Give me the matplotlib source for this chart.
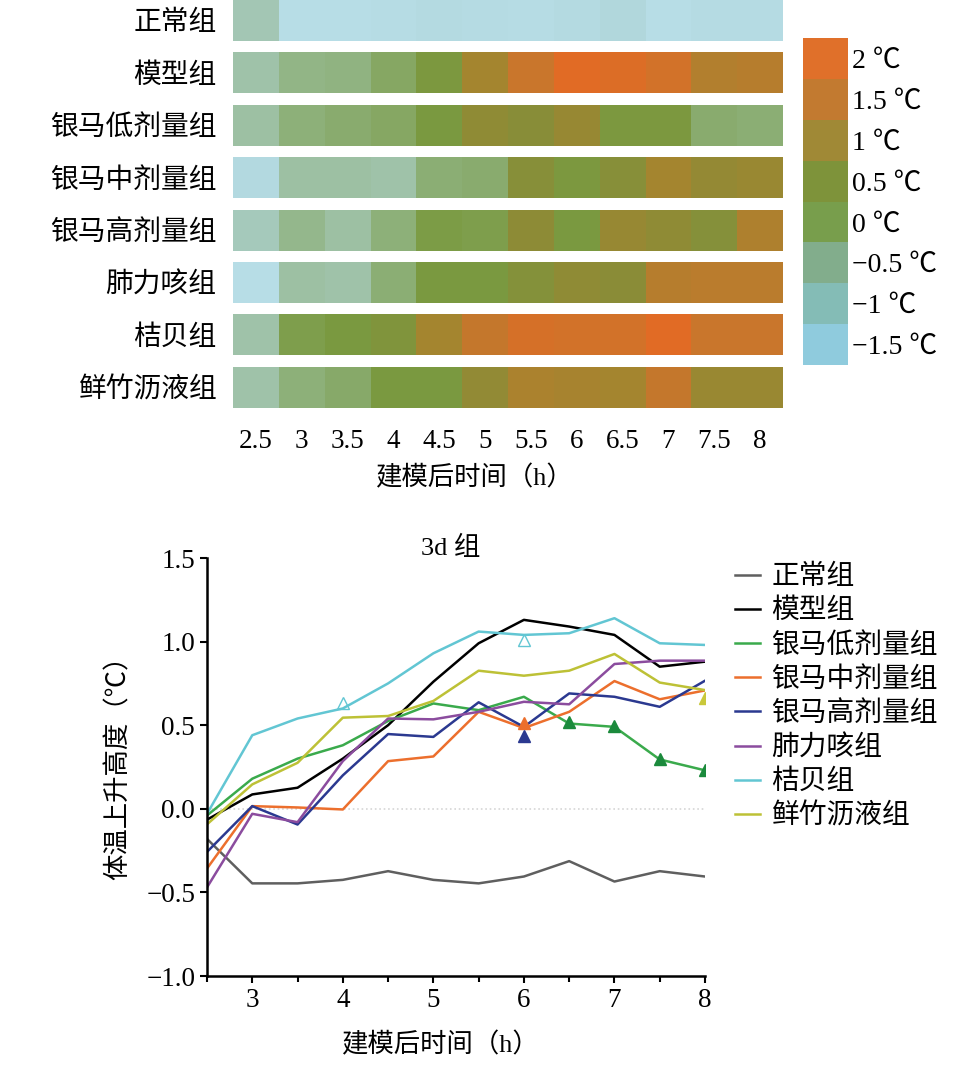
import numpy as np
import matplotlib
matplotlib.use("Agg")
import matplotlib.pyplot as plt
from matplotlib.colors import LinearSegmentedColormap, ListedColormap, BoundaryNorm, Normalize
from matplotlib.cm import ScalarMappable
from matplotlib.ticker import MultipleLocator

FONT = ["Liberation Serif", "Noto Sans CJK SC"]
plt.rcParams["font.family"] = FONT
plt.rcParams["axes.unicode_minus"] = True

# ---- data ----
groups = ["正常组", "模型组", "银马低剂量组", "银马中剂量组", "银马高剂量组",
          "肺力咳组", "桔贝组", "鲜竹沥液组"]
hours = [2.5, 3, 3.5, 4, 4.5, 5, 5.5, 6, 6.5, 7, 7.5, 8]
hour_labels = ["2.5", "3", "3.5", "4", "4.5", "5", "5.5", "6", "6.5", "7", "7.5", "8"]

# heatmap (temperature rise, ℃)
heat_normal = [-1.0, -2.0, -2.0, -1.95, -1.85, -1.9, -1.95, -1.85, -1.7, -2.0, -1.9, -1.9]
heat_model = [-0.9, -0.6, -0.55, -0.3, 0.05, 1.0, 1.5, 2.0, 1.9, 1.7, 1.2, 1.25]
heat_low = [-0.85, -0.5, -0.4, -0.3, 0.0, 0.6, 0.45, 0.75, 0.05, 0.05, -0.4, -0.45]
heat_mid = [-1.8, -0.85, -0.85, -0.9, -0.45, -0.4, 0.4, 0.05, 0.4, 1.0, 0.7, 0.8]
heat_high = [-1.1, -0.65, -0.85, -0.5, -0.05, -0.1, 0.55, 0.0, 0.75, 0.6, 0.35, 1.15]
heat_flk = [-2.0, -0.85, -0.9, -0.45, 0.0, 0.0, 0.3, 0.6, 0.5, 1.25, 1.3, 1.3]
heat_jb = [-0.9, -0.1, 0.0, 0.2, 1.0, 1.45, 1.75, 1.7, 1.7, 2.0, 1.5, 1.5]
heat_xzl = [-0.9, -0.5, -0.35, 0.0, 0.0, 0.65, 1.1, 1.05, 1.0, 1.45, 0.8, 0.8]
heat_rows = [heat_normal, heat_model, heat_low, heat_mid, heat_high, heat_flk, heat_jb, heat_xzl]

cbar_values = [-1.5, -1, -0.5, 0, 0.5, 1, 1.5, 2]
cbar_labels = ["−1.5 ℃", "−1 ℃", "−0.5 ℃", "0 ℃", "0.5 ℃", "1 ℃", "1.5 ℃", "2 ℃"]

# 3d group line chart
line_normal = [-0.18, -0.446, -0.446, -0.425, -0.373, -0.425, -0.446, -0.405, -0.313, -0.435, -0.373, -0.405]
line_model = [-0.065, 0.086, 0.126, 0.30, 0.50, 0.76, 0.99, 1.13, 1.09, 1.04, 0.85, 0.88]
line_low = [-0.04, 0.18, 0.30, 0.38, 0.525, 0.63, 0.59, 0.67, 0.51, 0.49, 0.295, 0.23]
line_mid = [-0.357, 0.016, 0.008, -0.004, 0.285, 0.313, 0.58, 0.483, 0.58, 0.764, 0.655, 0.708]
line_high = [-0.258, 0.016, -0.094, 0.20, 0.447, 0.43, 0.637, 0.49, 0.69, 0.67, 0.61, 0.766]
line_flk = [-0.47, -0.03, -0.08, 0.285, 0.54, 0.535, 0.58, 0.64, 0.625, 0.866, 0.886, 0.886]
line_jb = [-0.03, 0.44, 0.54, 0.60, 0.75, 0.93, 1.06, 1.04, 1.05, 1.14, 0.99, 0.98]
line_xzl = [-0.093, 0.146, 0.275, 0.545, 0.555, 0.645, 0.826, 0.796, 0.826, 0.926, 0.755, 0.71]
line_rows = [line_normal, line_model, line_low, line_mid, line_high, line_flk, line_jb, line_xzl]
line_colors = ["#5f5f5f", "#000000", "#3aaa4c", "#ec6f2d", "#2b3990", "#8b4c9e", "#62c6d3", "#bdc136"]

# significance triangles
sig_low_x = [6.5, 7, 7.5, 8]
sig_low_y = [0.52, 0.495, 0.30, 0.235]
sig_mid_x, sig_mid_y = [6], [0.515]
sig_high_x, sig_high_y = [6], [0.435]
sig_xzl_x, sig_xzl_y = [8], [0.66]
sig_jb_x, sig_jb_y = [4, 6], [0.635, 1.01]

# ---- figure ----
fig = plt.figure(figsize=(9.8, 10.69), dpi=100)

# heatmap
heat_cmap = LinearSegmentedColormap.from_list("heat", [
    (0.0, "#b7dde6"), (0.125, "#add3d6"), (0.25, "#a3c6b4"), (0.375, "#8db07a"),
    (0.5, "#7a9940"), (0.625, "#8a8c37"), (0.75, "#a3852f"), (0.875, "#c8762c"),
    (1.0, "#e16b25")])
heat_norm = Normalize(-2, 2)

ax_h = fig.add_axes([233 / 980, 1 - 413.5 / 1069, 550 / 980, 413.5 / 1069])
x_edges = np.arange(len(hours) + 1) - 0.5
for i, row in enumerate(heat_rows):
    ax_h.pcolormesh(x_edges, [i - 0.39, i + 0.39], np.array(row)[None, :],
                    cmap=heat_cmap, norm=heat_norm, shading="flat")
ax_h.set_xlim(-0.5, len(hours) - 0.5)
ax_h.set_ylim(len(groups) - 0.5, -0.39)
ax_h.set_yticks(range(len(groups)))
ax_h.set_yticklabels(groups, fontsize=20)
ax_h.set_xticks(range(len(hours)))
ax_h.set_xticklabels(hour_labels, fontsize=19.5)
ax_h.tick_params(length=0)
ax_h.tick_params(axis="y", pad=12)
ax_h.tick_params(axis="x", pad=11)
for s in ax_h.spines.values():
    s.set_visible(False)
fig.text(475 / 980, 1 - 478 / 1069, "建模后时间（h）", fontsize=19, ha="center", va="center")

# colorbar
cb_colors = ["#8fcbdd", "#84bcb6", "#82ad8c", "#789e4c", "#7e933a", "#a08936", "#c27a30", "#e0702a"]
cb_bounds = [v - 0.25 for v in cbar_values] + [cbar_values[-1] + 0.25]
sm = ScalarMappable(norm=BoundaryNorm(cb_bounds, len(cb_colors)), cmap=ListedColormap(cb_colors))
ax_c = fig.add_axes([803 / 980, 1 - 365 / 1069, 45 / 980, 327 / 1069])
cb = fig.colorbar(sm, cax=ax_c, ticks=cbar_values)
cb.set_ticklabels(cbar_labels)
cb.ax.minorticks_off()
cb.ax.tick_params(length=0, pad=3, labelsize=20)
cb.outline.set_visible(False)

# line chart
ax = fig.add_axes([207 / 980, 1 - 976 / 1069, 498 / 980, 418 / 1069])
ax.axhline(0, color="#d6d6d6", ls=":", lw=1.2, zorder=0)
for name, vals, c in zip(groups, line_rows, line_colors):
    ax.plot(hours, vals, color=c, lw=1.8, label=name)
ax.plot(sig_low_x, sig_low_y, "^", color="#1b8a3c", ms=8, ls="none")
ax.plot(sig_mid_x, sig_mid_y, "^", color="#ec6f2d", ms=8, ls="none")
ax.plot(sig_high_x, sig_high_y, "^", color="#2b3990", ms=8, ls="none")
ax.plot(sig_xzl_x, sig_xzl_y, "^", color="#c9c83a", ms=8, ls="none")
ax.plot(sig_jb_x, sig_jb_y, "^", mfc="none", mec="#62c6d3", mew=1.0, ms=8, ls="none")

ax.set_xlim(2.5, 8)
ax.set_ylim(-1.0, 1.5)
ax.xaxis.set_major_locator(MultipleLocator(1))
ax.xaxis.set_minor_locator(MultipleLocator(0.5))
ax.set_xticks([3, 4, 5, 6, 7, 8])
ax.set_yticks([-1.0, -0.5, 0.0, 0.5, 1.0, 1.5])
ax.set_yticklabels(["−1.0", "−0.5", "0.0", "0.5", "1.0", "1.5"])
ax.tick_params(axis="both", which="major", labelsize=19.5, length=5, width=1.5, direction="out")
ax.tick_params(axis="x", which="minor", length=4, width=1.5, direction="out")
for side in ["top", "right"]:
    ax.spines[side].set_visible(False)
for side in ["left", "bottom"]:
    ax.spines[side].set_linewidth(1.8)

fig.text(451 / 980, 1 - 548 / 1069, "3d 组", fontsize=19, ha="center", va="center")
fig.text(118 / 980, 1 - 761 / 1069, "体温上升高度（℃）", fontsize=19, ha="center",
         va="center", rotation=90)
fig.text(441 / 980, 1 - 1045 / 1069, "建模后时间（h）", fontsize=19, ha="center", va="center")

fig.legend(loc="upper left", bbox_to_anchor=(735 / 980, 1 - 565 / 1069), frameon=False,
           fontsize=20, handlelength=0.9, handletextpad=0.4, labelspacing=0.3,
           borderpad=0, borderaxespad=0)

fig.savefig("out.png", dpi=100)
